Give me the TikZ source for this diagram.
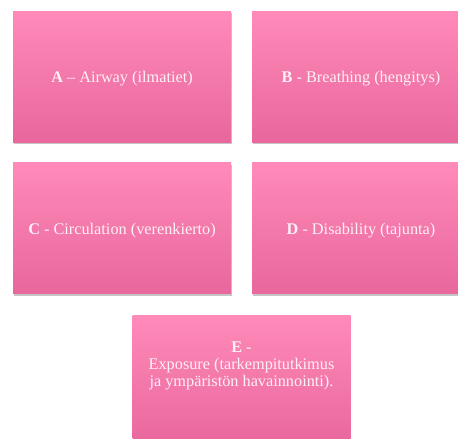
\documentclass[tikz,border=0pt]{standalone}
\usepackage{fontspec}
\setmainfont{Liberation Serif}
\usetikzlibrary{shadows}

\definecolor{pinktop}{HTML}{FF8AB9}
\definecolor{pinkbot}{HTML}{E8679D}
\definecolor{pinktext}{HTML}{FFF0F6}

\begin{document}
\begin{tikzpicture}[x=0.75pt,y=-0.75pt,
    abcbox/.style={rectangle, minimum width=218*0.75pt, minimum height=131*0.75pt,
      top color=pinktop, bottom color=pinkbot, draw=none, inner sep=0pt,
      drop shadow={shadow xshift=0.5pt, shadow yshift=-1.5pt, opacity=0.45},
      text=pinktext, font=\fontsize{12.2}{12.6}\selectfont, align=center,
      text height=12.5pt, text depth=3pt}]

  \useasboundingbox[fill=white] (0,0) rectangle (458,439);

  \node[abcbox] (airway) at (122,76.5) {\textbf{A} -- Airway (ilmatiet)};
  \node[abcbox] (breathing) at (361,76.5) {\textbf{B} - Breathing (hengitys)};

  \node[abcbox] (circulation) at (122,228) {\textbf{C} - Circulation (verenkierto)};
  \node[abcbox] (disability) at (361,228) {\textbf{D} - Disability (tajunta)};

  \node[abcbox] (exposure) at (241.5,380.5) {};
  \node[text=pinktext, font=\fontsize{12.2}{12.6}\selectfont, align=center]
    (exposuretext) at (241.5,366) {\textbf{E} -\\ Exposure (tarkempitutkimus\\ ja ympäristön havainnointi).};

\end{tikzpicture}
\end{document}
